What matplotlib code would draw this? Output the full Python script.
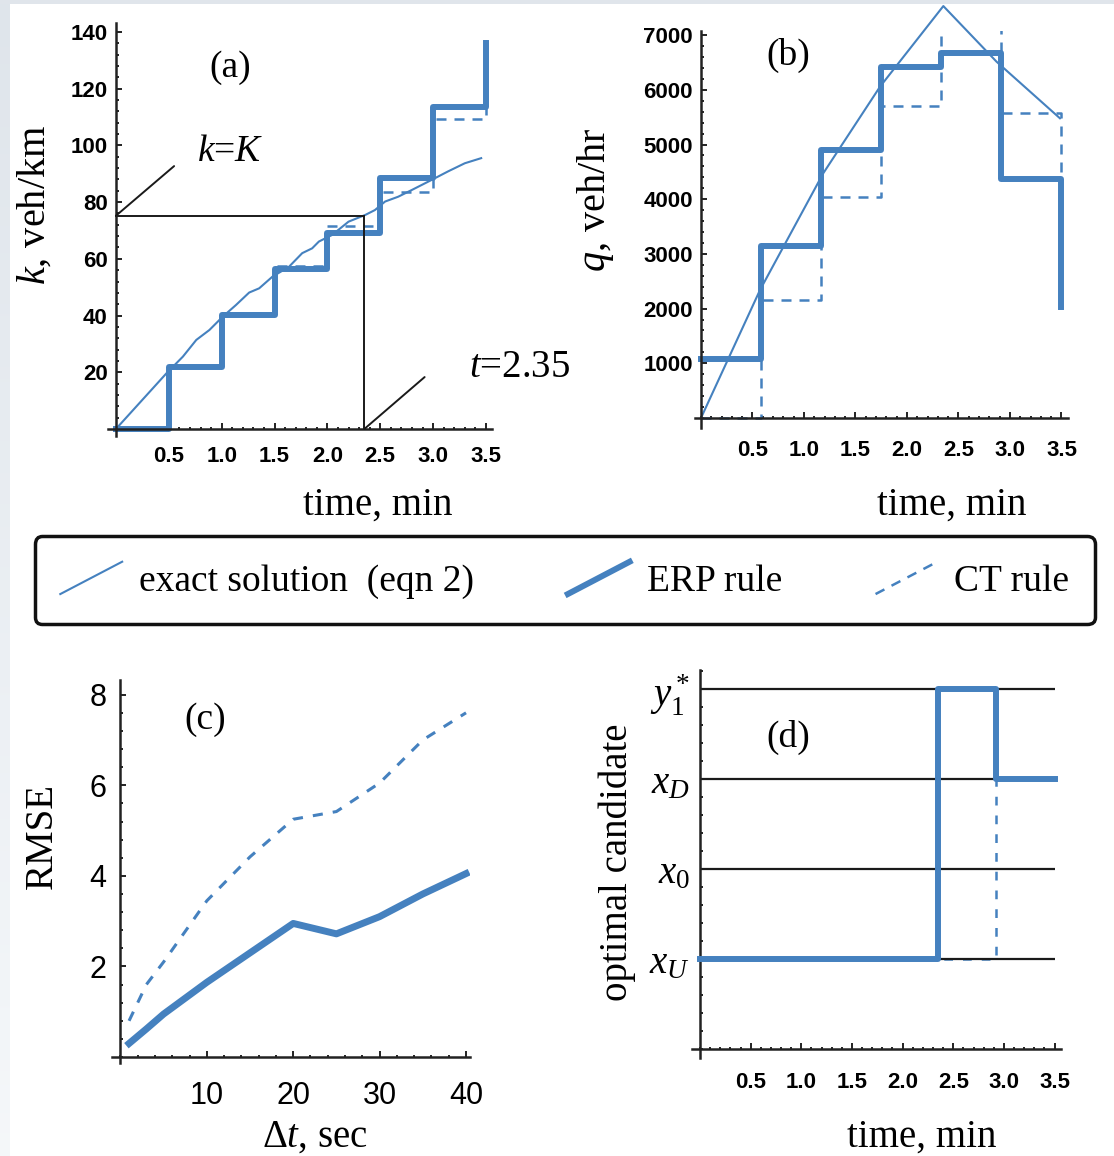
import numpy as np
import matplotlib.pyplot as plt
from matplotlib.lines import Line2D
from matplotlib.legend_handler import HandlerLine2D
from matplotlib.ticker import MultipleLocator

plt.rcParams['font.family'] = ['Liberation Serif', 'DejaVu Serif']
plt.rcParams['mathtext.fontset'] = 'custom'
plt.rcParams['mathtext.rm'] = 'Liberation Serif'
plt.rcParams['mathtext.it'] = 'Liberation Serif:italic'
plt.rcParams['mathtext.bf'] = 'Liberation Serif:bold'

BLUE = '#4581bf'

# (a) density k vs time
t_exact_a = [0, 0.477, 0.633, 0.76, 0.884, 1.01, 1.135, 1.26, 1.355, 1.48, 1.637,
             1.762, 1.856, 1.92, 2.044, 2.2, 2.36, 2.45, 2.546, 2.67, 2.8, 2.985,
             3.14, 3.3, 3.455]
k_exact = [0, 19.6, 25.5, 31.4, 34.9, 39.6, 43.7, 48.1, 49.6, 53.7, 57.2,
           62.0, 63.7, 66.1, 68.4, 73.1, 75.5, 77.2, 80.2, 81.9, 84.3, 87.8,
           90.8, 93.7, 95.5]
t_steps_a = [0, 0.5, 1.0, 1.5, 2.0, 2.5, 3.0, 3.5]
k_erp = [0, 22, 40.2, 56.3, 69.2, 88.4, 113.7, 136]
k_ct = [0, 22, 40.9, 57.6, 71.4, 83.6, 109.2, 137]
K = 75.2
t_K = 2.35

# (b) flow q vs time
t_exact_b = [0, 0.573, 1.187, 1.738, 2.353, 2.87, 3.485]
q_exact = [0, 2340, 4474, 6057, 7532, 6514, 5480]
t_steps_b = [0, 0.583, 1.167, 1.75, 2.333, 2.917, 3.5]
q_erp = [1073, 3144, 4899, 6423, 6679, 4364, 2035]
q_ct = [0, 2157, 4046, 5704, 7106, 5570, 3108]

# (c) RMSE vs time step
dt = [1, 3, 5, 10, 15, 20, 25, 30, 35, 40]
rmse_erp = [0.3, 0.62, 0.95, 1.65, 2.3, 2.95, 2.72, 3.1, 3.6, 4.05]
rmse_ct = [0.8, 1.6, 2.1, 3.45, 4.42, 5.25, 5.42, 6.05, 7.0, 7.6]

# (d) optimal candidate
cand_levels = [1, 2, 3, 4]
cand_labels = [r'$x_U$', r'$x_0$', r'$x_D$', r'$y_1^*$']
t_switch_erp = [0, 2.35, 2.917, 3.5]
cand_erp = [1, 4, 3, 3]
t_switch_ct = [0, 2.917, 3.5]
cand_ct = [1, 3, 3]

time_ticks = [0.5, 1.0, 1.5, 2.0, 2.5, 3.0, 3.5]
time_ticklabels = ['0.5', '1.0', '1.5', '2.0', '2.5', '3.0', '3.5']


def style_axes(ax, xlim, ylim, xminor, yminor, xpad, ypad):
    ax.set_xlim(xlim)
    ax.set_ylim(ylim)
    ax.spines['top'].set_visible(False)
    ax.spines['right'].set_visible(False)
    for s in ['left', 'bottom']:
        ax.spines[s].set_position(('data', 0))
        ax.spines[s].set_linewidth(1.8)
        ax.spines[s].set_color('#222222')
    ax.xaxis.set_minor_locator(MultipleLocator(xminor))
    ax.yaxis.set_minor_locator(MultipleLocator(yminor))
    ax.tick_params(which='both', direction='in', width=1.4, color='#222222')
    ax.tick_params(which='major', length=4)
    ax.tick_params(which='minor', length=1.8)
    ax.tick_params(axis='x', pad=xpad)
    ax.tick_params(axis='y', pad=ypad)
    ax.patch.set_alpha(0)


def tick_font(ax, size, weight='bold'):
    for lab in ax.get_xticklabels() + ax.get_yticklabels():
        lab.set_fontfamily('Liberation Sans')
        lab.set_fontweight(weight)
        lab.set_fontsize(size)


class DiagonalHandler(HandlerLine2D):
    def create_artists(self, legend, orig_handle, xdescent, ydescent,
                       width, height, fontsize, trans):
        line = Line2D([-xdescent, width - xdescent], [-ydescent, height - ydescent])
        self.update_prop(line, orig_handle, legend)
        line.set_drawstyle('default')
        line.set_transform(trans)
        return [line]


fig = plt.figure(figsize=(11.14, 11.56), dpi=100)

# light page shading on the left and top edges
shade = np.ones((1156, 10, 3))
fade = np.linspace(0, 1, 1156)[:, None]
shade[:] = ((1 - fade) * np.array([0.875, 0.898, 0.922]) + fade * np.array([0.96, 0.97, 0.98]))[:, None, :]
fig.figimage(shade, xo=0, yo=0, origin='upper', zorder=0)
fig.figimage(np.full((4, 1114, 3), [0.88, 0.9, 0.925]), xo=0, yo=1152, zorder=0)

# ---- (a)
ax = fig.add_axes([0.0965, 0.6228, 0.3454, 0.3569])
style_axes(ax, (-0.08, 3.56), (-2.5, 143), 0.1, 4, 12, 6)
h_exact, = ax.plot(t_exact_a, k_exact, color=BLUE, lw=1.5, label='exact solution  (eqn 2)')
h_ct, = ax.step(t_steps_a, k_ct, where='post', color=BLUE, lw=1.8,
                ls=(0, (4, 3.2)), label='CT rule')
h_erp, = ax.step(t_steps_a, k_erp, where='post', color=BLUE, lw=4.3, label='ERP rule')
ax.plot([0, t_K], [K, K], color='#1a1a1a', lw=1.4)
ax.plot([t_K, t_K], [0, K], color='#1a1a1a', lw=1.4)
ax.annotate('', xy=(0, K), xytext=(0.55, 92.7),
            arrowprops=dict(arrowstyle='-', color='#1a1a1a', lw=1.4, shrinkA=0, shrinkB=0))
ax.annotate('', xy=(t_K, 0), xytext=(2.92, 18.3),
            arrowprops=dict(arrowstyle='-', color='#1a1a1a', lw=1.4, shrinkA=0, shrinkB=0))
ax.text(1.08, 97.7, r'$k$=$K$', fontsize=27, ha='center', va='center')
ax.text(3.82, 21.5, r'$t$=2.35', fontsize=28, ha='center', va='center')
ax.text(0.318, 0.892, '(a)', transform=ax.transAxes, fontsize=27, ha='center', va='center')
ax.set_xticks(time_ticks, time_ticklabels)
ax.set_yticks([20, 40, 60, 80, 100, 120, 140])
tick_font(ax, 16)
ax.set_xlabel('time, min', fontsize=28, va='center')
ax.xaxis.set_label_coords(0.703, -0.167)
ax.set_ylabel(r'$k$, veh/km', fontsize=29, va='center')
ax.yaxis.set_label_coords(-0.188, 0.56)

# ---- (b)
ax = fig.add_axes([0.6237, 0.6299, 0.3347, 0.343])
style_axes(ax, (-0.06, 3.56), (-180, 7070), 0.1, 200, 16, 6)
ax.plot(t_exact_b, q_exact, color=BLUE, lw=1.5, clip_on=False)
ax.step(t_steps_b, q_ct, where='post', color=BLUE, lw=1.8, ls=(0, (4, 3.2)))
ax.step(t_steps_b, q_erp, where='post', color=BLUE, lw=4.3)
ax.text(0.25, 0.94, '(b)', transform=ax.transAxes, fontsize=27, ha='center', va='center')
ax.set_xticks(time_ticks, time_ticklabels)
ax.set_yticks([1000, 2000, 3000, 4000, 5000, 6000, 7000])
tick_font(ax, 16)
ax.set_xlabel('time, min', fontsize=28, va='center')
ax.xaxis.set_label_coords(0.69, -0.195)
ax.set_ylabel(r'$q$, veh/hr', fontsize=29, va='center')
ax.yaxis.set_label_coords(-0.265, 0.575)

# ---- (c)
ax = fig.add_axes([0.1005, 0.0805, 0.3217, 0.3311])
style_axes(ax, (-0.98, 40.5), (-0.13, 8.32), 2, 0.4, 17, 10)
ax.plot(dt, rmse_ct, color=BLUE, lw=2.2, ls=(0, (3.3, 3.3)))
ax.plot(dt, rmse_erp, color=BLUE, lw=5)
ax.text(0.26, 0.896, '(c)', transform=ax.transAxes, fontsize=27, ha='center', va='center')
ax.set_xticks([10, 20, 30, 40])
ax.set_yticks([2, 4, 6, 8])
tick_font(ax, 22, 'normal')
ax.set_xlabel(r'Δ$t$, sec', fontsize=28, va='center')
ax.xaxis.set_label_coords(0.566, -0.194)
ax.set_ylabel('RMSE', fontsize=28, va='center')
ax.yaxis.set_label_coords(-0.195, 0.593)

# ---- (d)
ax = fig.add_axes([0.6211, 0.0845, 0.331, 0.3363])
style_axes(ax, (-0.08, 3.56), (-0.1, 4.22), 0.1, 0.2, 16, 7)
ax.step(t_switch_ct, cand_ct, where='post', color=BLUE, lw=1.8, ls=(0, (3.5, 4)), zorder=2)
ax.hlines(cand_levels, 0, 3.5, color='#1a1a1a', lw=1.6, zorder=2.5)
ax.step(t_switch_erp, cand_erp, where='post', color=BLUE, lw=4.3, zorder=3)
ax.text(0.261, 0.826, '(d)', transform=ax.transAxes, fontsize=27, ha='center', va='center')
ax.set_xticks(time_ticks, time_ticklabels)
tick_font(ax, 16)
ax.set_yticks(cand_levels, cand_labels)
for lab in ax.get_yticklabels():
    lab.set_fontsize(28)
ax.set_xlabel('time, min', fontsize=28, va='center')
ax.xaxis.set_label_coords(0.624, -0.202)
ax.set_ylabel('optimal candidate', fontsize=28, va='center')
ax.yaxis.set_label_coords(-0.203, 0.505)

# ---- legend
leg = fig.legend(handles=[h_exact, h_erp, h_ct], loc='center',
                 bbox_to_anchor=(0.507, 0.498), ncol=3, fontsize=27,
                 handler_map={Line2D: DiagonalHandler()},
                 handlelength=1.65, handleheight=0.95, handletextpad=0.45,
                 columnspacing=2.5, borderpad=0.68, fancybox=True,
                 framealpha=1, edgecolor='#111111')
leg.get_frame().set_linewidth(2.5)

fig.savefig('out.png', dpi=100)
